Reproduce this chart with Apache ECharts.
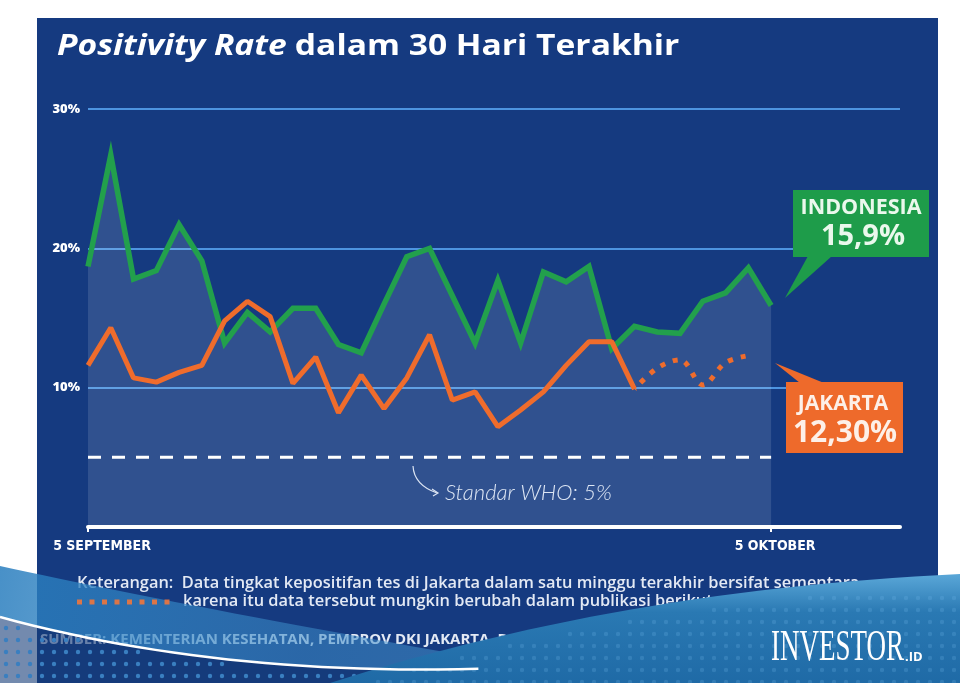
<!DOCTYPE html>
<html>
<head>
<meta charset="utf-8">
<script src="https://cdn.jsdelivr.net/npm/echarts@6/dist/echarts.min.js"></script>
<style>
html,body{margin:0;padding:0;background:#ffffff;}
#chart{width:960px;height:683px;}
</style>
</head>
<body>
<div id="chart"></div>
<script>
// ---- data ----
const days = ['5 Sep','6 Sep','7 Sep','8 Sep','9 Sep','10 Sep','11 Sep','12 Sep','13 Sep','14 Sep','15 Sep','16 Sep','17 Sep','18 Sep','19 Sep','20 Sep','21 Sep','22 Sep','23 Sep','24 Sep','25 Sep','26 Sep','27 Sep','28 Sep','29 Sep','30 Sep','1 Okt','2 Okt','3 Okt','4 Okt','5 Okt'];
const indonesia = [18.7, 26.7, 17.8, 18.4, 21.7, 19.1, 13.2, 15.4, 14.0, 15.7, 15.7, 13.1, 12.5, 16.0, 19.4, 20.0, 16.6, 13.2, 17.7, 13.2, 18.3, 17.6, 18.7, 12.8, 14.4, 14.0, 13.9, 16.2, 16.8, 18.6, 15.9];
const jakartaFinal = [11.6, 14.3, 10.7, 10.4, 11.1, 11.6, 14.8, 16.2, 15.1, 10.3, 12.2, 8.2, 10.9, 8.5, 10.7, 13.8, 9.1, 9.7, 7.2, 8.4, 9.7, 11.6, 13.3, 13.3, 9.9];
const jakartaProvisionalStart = 24;
const jakartaProvisional = [9.9, 11.4, 12.0, 10.2, 11.8, 12.3];
const whoStandard = 5;
const yTicks = [10, 20, 30];
const xTickDays = [0, 30];
const xTickLabels = ['5 SEPTEMBER', '5 OKTOBER'];
const indonesiaLabel = ['INDONESIA', '15,9%'];
const jakartaLabel = ['JAKARTA', '12,30%'];

// ---- helpers for decoration ----
function bez(p0, c, p1, n) {
  const pts = [];
  for (let k = 0; k <= n; k++) {
    const t = k / n, u = 1 - t;
    pts.push([u*u*p0[0] + 2*u*t*c[0] + t*t*p1[0], u*u*p0[1] + 2*u*t*c[1] + t*t*p1[1]]);
  }
  return pts;
}
function yAt(pts, x) {
  for (let k = 0; k < pts.length - 1; k++) {
    const a = pts[k], b = pts[k+1];
    if (x >= a[0] && x <= b[0]) return a[1] + (b[1]-a[1]) * (x - a[0]) / (b[0]-a[0]);
  }
  return x < pts[0][0] ? pts[0][1] : pts[pts.length-1][1];
}

const bandTop = bez([0,566],[200,610],[620,683],30);
const swoosh = bez([0,617],[250,685],[560,665],30);
const rightTop = bez([330,683],[620,590],[960,574],30);

const elements = [];
// panel
elements.push({type:'rect', z:-20, shape:{x:37,y:18,width:901,height:665}, style:{fill:'#153a80'}});
// title
elements.push({type:'text', z:5, x:57, y:47, scaleX:1.2, style:{
  text:'{i|Positivity Rate}  {b|dalam 30 Hari Terakhir}',
  rich:{ i:{font:'italic 700 28px "Open Sans"', fill:'#ffffff'}, b:{font:'700 28px "Open Sans"', fill:'#ffffff'} },
  verticalAlign:'middle'
}});
// WHO annotation
elements.push({type:'bezierCurve', z:5, shape:{x1:413,y1:466,cpx1:414,cpy1:485,x2:437,y2:493}, style:{stroke:'#dbe4f3', lineWidth:1.2, fill:null}});
elements.push({type:'polyline', z:5, shape:{points:[[432,489],[438,493],[433,496]]}, style:{stroke:'#dbe4f3', lineWidth:1.2, fill:null}});
elements.push({type:'text', z:5, x:445, y:493, style:{text:'Standar WHO: 5%', font:'italic 300 22px Lato', fill:'#dde6f4', verticalAlign:'middle'}});

// callouts
elements.push({type:'polygon', z:6, shape:{points:[[808,256],[832,256],[785,298]]}, style:{fill:'#1e9c4a'}});
elements.push({type:'rect', z:6, shape:{x:793,y:190,width:136,height:67}, style:{fill:'#1e9c4a'}});
elements.push({type:'text', z:7, x:861, y:208, style:{text:indonesiaLabel[0], font:'700 21.5px "Open Sans"', fill:'#eaf8ec', align:'center', verticalAlign:'middle'}});
elements.push({type:'text', z:7, x:863, y:237, style:{text:indonesiaLabel[1], font:'700 29px "Open Sans"', fill:'#eaf8ec', align:'center', verticalAlign:'middle'}});
elements.push({type:'polygon', z:6, shape:{points:[[775,363],[800,383],[824,383]]}, style:{fill:'#ee6a2b'}});
elements.push({type:'rect', z:6, shape:{x:786,y:382,width:117,height:71}, style:{fill:'#ee6a2b'}});
elements.push({type:'text', z:7, x:843, y:404, style:{text:jakartaLabel[0], font:'700 21px "Open Sans"', fill:'#fdf0e8', align:'center', verticalAlign:'middle'}});
elements.push({type:'text', z:7, x:845, y:433, style:{text:jakartaLabel[1], font:'700 30px "Open Sans"', fill:'#fdf0e8', align:'center', verticalAlign:'middle'}});

// notes
elements.push({type:'text', z:5, x:77, y:583, style:{text:'Keterangan:  Data tingkat kepositifan tes di Jakarta dalam satu minggu terakhir bersifat sementara,', font:'600 16.4px "Open Sans"', fill:'#e3e9f4', verticalAlign:'middle'}});
elements.push({type:'line', z:26, shape:{x1:77,y1:602,x2:171,y2:602}, style:{stroke:'rgba(240,118,60,0.9)', lineWidth:5, lineDash:[5,7.5]}});
elements.push({type:'text', z:5, x:183, y:601, style:{text:'karena itu data tersebut mungkin berubah dalam publikasi berikutnya', font:'600 16.4px "Open Sans"', fill:'#e3e9f4', verticalAlign:'middle'}});
elements.push({type:'text', z:5, x:40, y:640, style:{text:'SUMBER: KEMENTERIAN KESEHATAN, PEMPROV DKI JAKARTA, DIOLAH', font:'700 15px "Open Sans"', fill:'#e3e9f4', verticalAlign:'middle'}});

// bottom wave decoration
const basePts = swoosh.concat([[700,683],[0,683]]);
elements.push({type:'polygon', z:20, shape:{points:basePts}, style:{fill:'rgba(22,60,120,0.6)'}});
for (let y = 628; y < 690; y += 12) {
  for (let x = 6; x < 560; x += 12) {
    if (y > yAt(swoosh, x) + 4) elements.push({type:'circle', z:21, shape:{cx:x, cy:y, r:2.2}, style:{fill:'#3a7fc0'}});
  }
}
const bandPts = bandTop.concat(swoosh.slice().reverse());
elements.push({type:'polygon', z:22, shape:{points:bandPts}, style:{fill:{type:'linear',x:0,y:0,x2:1,y2:1,colorStops:[{offset:0,color:'rgba(40,125,190,0.85)'},{offset:0.5,color:'rgba(60,140,200,0.55)'},{offset:1,color:'rgba(80,155,210,0.5)'}]}}});
const rightPts = rightTop.concat([[960,683]]);
elements.push({type:'polygon', z:23, shape:{points:rightPts}, style:{fill:{type:'linear',x:0,y:0,x2:0,y2:1,colorStops:[{offset:0,color:'#5aa7d8'},{offset:0.35,color:'#2a79b3'},{offset:1,color:'#1f6aa6'}]}}});
for (let y = 586; y < 690; y += 12) {
  for (let x = 330; x < 960; x += 12) {
    if (y > yAt(rightTop, x) + 12) elements.push({type:'circle', z:24, shape:{cx:x, cy:y, r:2.2}, style:{fill:'rgba(120,185,235,0.22)'}});
  }
}
elements.push({type:'polyline', z:25, shape:{points:swoosh.slice(0,27)}, style:{stroke:'#ffffff', lineWidth:2.5, fill:null}});
// logo
elements.push({type:'text', z:30, x:771, y:648, scaleX:0.6, style:{text:'INVESTOR', font:'400 45px "Liberation Serif"', fill:'#ffffff', verticalAlign:'middle'}});
elements.push({type:'text', z:30, x:905, y:657, style:{text:'.ID', font:'700 13px "Open Sans"', fill:'#ffffff', verticalAlign:'middle'}});

const chart = echarts.init(document.getElementById('chart'), null, {renderer:'canvas'});
chart.setOption({
  animation:false,
  backgroundColor:'#ffffff',
  grid:{left:88, right:60, top:109, bottom:156, containLabel:false},
  xAxis:{
    type:'value', min:0, max:35.66,
    splitLine:{show:false},
    axisLine:{show:true, lineStyle:{color:'#ffffff', width:4}},
    axisTick:{show:true, customValues:xTickDays, length:5, lineStyle:{color:'#ffffff', width:2}},
    axisLabel:{
      customValues:xTickDays, margin:12,
      formatter:function(v){ const k = xTickDays.indexOf(v); return k === 0 ? '{a|' + xTickLabels[k] + '}' : (k > 0 ? '{b|' + xTickLabels[k] + '}' : ''); },
      rich:{ a:{fontFamily:'DejaVu Sans Condensed', fontWeight:'bold', fontSize:14, color:'#ffffff', padding:[0,0,0,28]},
             b:{fontFamily:'DejaVu Sans Condensed', fontWeight:'bold', fontSize:14, color:'#ffffff', padding:[0,0,0,8]} }
    }
  },
  yAxis:{
    type:'value', min:0, max:30, interval:10,
    axisLine:{show:false}, axisTick:{show:false},
    axisLabel:{margin:8, color:'#ffffff', fontFamily:'Open Sans', fontWeight:800, fontSize:13,
      formatter:function(v){ return yTicks.indexOf(v) >= 0 ? v + '%' : ''; }},
    splitLine:{show:true, lineStyle:{color:'#4d94e0', width:2}}
  },
  series:[
    {name:'Indonesia', type:'line', z:3, symbol:'none',
     data:indonesia.map(function(v,i){return [i,v];}),
     lineStyle:{color:'#22a04c', width:5.5, join:'miter'},
     areaStyle:{color:'rgba(255,255,255,0.17)', origin:'start'}},
    {name:'WHO', type:'line', z:2, symbol:'none',
     data:[[0, whoStandard],[days.length-1, whoStandard]],
     lineStyle:{color:'#ffffff', width:3, type:[13,11]}},
    {name:'Jakarta', type:'line', z:4, symbol:'none',
     data:jakartaFinal.map(function(v,i){return [i,v];}),
     lineStyle:{color:'#ef6c2c', width:5}},
    {name:'Jakarta sementara', type:'line', z:4, symbol:'none', smooth:0.35,
     data:jakartaProvisional.map(function(v,i){return [jakartaProvisionalStart+i, v];}),
     lineStyle:{color:'#ef6c2c', width:5, type:[5,8], dashOffset:-9}}
  ],
  graphic:{elements:elements}
});
</script>
</body>
</html>
